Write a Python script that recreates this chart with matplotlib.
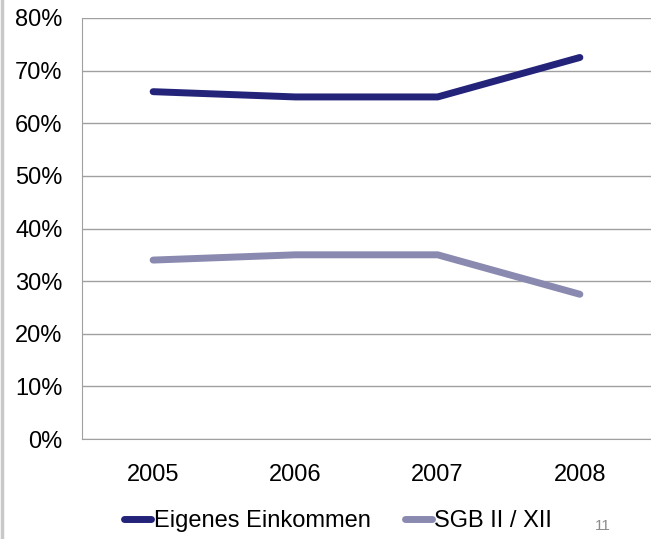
import matplotlib
matplotlib.use("Agg")
import matplotlib.pyplot as plt
from matplotlib.lines import Line2D

years = ["2005", "2006", "2007", "2008"]
eigenes = [66.0, 65.0, 65.0, 72.5]
sgb = [34.0, 35.0, 35.0, 27.5]
yticks = [0, 10, 20, 30, 40, 50, 60, 70, 80]

plt.rcParams['font.family'] = ['Liberation Sans', 'DejaVu Sans']

fig = plt.figure(figsize=(6.51, 5.39), dpi=100)
ax = fig.add_axes([82/651, 1-439/539, (651-82)/651, (439-18)/539])

x = list(range(len(years)))
ax.plot(x, eigenes, color="#23237a", lw=5, solid_capstyle="round", zorder=3)
ax.plot(x, sgb, color="#8a89b0", lw=5, solid_capstyle="round", zorder=3)

ax.set_xlim(-0.5, 3.5)
ax.set_ylim(0, 80)
ax.set_yticks(yticks)
ax.set_yticklabels([f"{v}%" for v in yticks])
ax.set_xticks(x)
ax.set_xticklabels(years)
ax.grid(axis="y", color="#a0a0a0", lw=1)
ax.set_axisbelow(True)
for s in ["top", "right"]:
    ax.spines[s].set_visible(False)
for s in ["left", "bottom"]:
    ax.spines[s].set_color("#a0a0a0")
ax.tick_params(axis="both", length=0, labelsize=17, colors="black")
ax.tick_params(axis="y", pad=14)
ax.tick_params(axis="x", pad=18)

handles = [Line2D([], [], color="#23237a", lw=5, solid_capstyle="round"),
           Line2D([], [], color="#8a89b0", lw=5, solid_capstyle="round")]
fig.legend(handles, ["Eigenes Einkommen", "SGB II / XII"], loc="center",
           bbox_to_anchor=(338/651, 1-521/539), ncol=2, frameon=False,
           fontsize=17, handlelength=1.15, handletextpad=0.1, columnspacing=1.45)

fig.text(603/651, 1-526/539, "11", fontsize=11, color="#8c8c8c", ha="center", va="center")
fig.add_artist(Line2D([1.5/651, 1.5/651], [0, 1], color="#c8c8c8", lw=2.5, transform=fig.transFigure))

fig.savefig("out.png", dpi=100)
